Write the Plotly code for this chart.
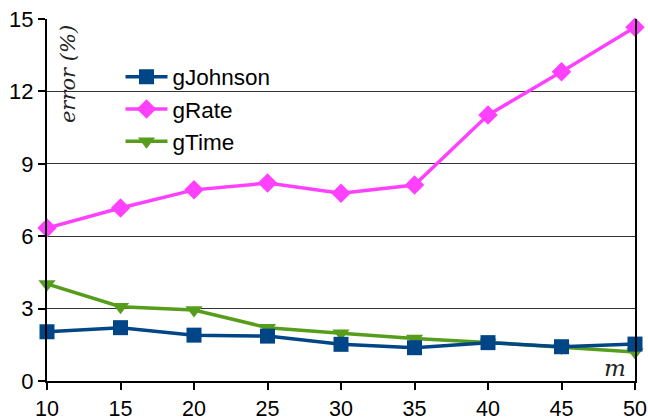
import plotly.graph_objects as go

m_values = [10, 15, 20, 25, 30, 35, 40, 45, 50]
g_johnson = [2.04, 2.21, 1.90, 1.86, 1.52, 1.38, 1.59, 1.42, 1.53]
g_rate = [6.34, 7.17, 7.92, 8.20, 7.78, 8.12, 11.02, 12.81, 14.66]
g_time = [4.02, 3.08, 2.94, 2.21, 1.98, 1.76, 1.60, 1.39, 1.20]
y_ticks = [0, 3, 6, 9, 12, 15]
x_ticks = [10, 15, 20, 25, 30, 35, 40, 45, 50]

series = [
    ("gRate", g_rate, "#ff40ff", "diamond", 2),
    ("gTime", g_time, "#579d1c", "triangle-down", 3),
    ("gJohnson", g_johnson, "#004586", "square", 1),
]

fig = go.Figure()
for name, vals, color, sym, rank in series:
    fig.add_trace(go.Scatter(x=m_values, y=vals, name=name, mode="lines+markers",
                             legendgroup=name, legendrank=rank,
                             line=dict(color=color, width=3.5),
                             marker=dict(symbol=sym, size=15, color=color),
                             cliponaxis=False))

fig.update_layout(
    width=648, height=417,
    margin=dict(l=47, r=13, t=19, b=36),
    plot_bgcolor="white", paper_bgcolor="white",
    font=dict(family="Liberation Sans, Arial, sans-serif", size=22, color="black"),
    showlegend=True,
    legend=dict(x=0.125, y=0.899, xanchor="left", yanchor="top",
                bgcolor="rgba(0,0,0,0)", font=dict(size=22.5),
                traceorder="grouped", itemwidth=42, tracegroupgap=0),
    xaxis=dict(range=[10, 50], tickvals=x_ticks, showgrid=False, showline=True,
               linecolor="black", linewidth=2, ticks="outside", ticklen=7,
               tickwidth=2, tickcolor="black", zeroline=False, automargin=False,
               tickfont=dict(size=21.5)),
    yaxis=dict(range=[0, 15], tickvals=y_ticks, showgrid=True, gridcolor="#333333",
               gridwidth=1, showline=True, linecolor="black", linewidth=2,
               ticks="outside", ticklen=7, tickwidth=2, tickcolor="black",
               zeroline=False, mirror=True, automargin=False),
)

fig.add_annotation(text="error (%)", xref="paper", yref="paper", x=0.011, y=0.99,
                   xanchor="left", yanchor="top", textangle=-90, showarrow=False,
                   font=dict(family="DejaVu Serif, Liberation Serif, serif", size=21,
                             style="italic", color="#222222"))
fig.add_annotation(text="m", xref="paper", yref="paper", x=0.988, y=-0.005,
                   xanchor="right", yanchor="bottom", showarrow=False,
                   font=dict(family="DejaVu Serif, Liberation Serif, serif", size=23,
                             style="italic", color="#222222"))

fig.write_html("out.html", config={"displayModeBar": False},
               post_script="document.body.style.margin='0';document.body.style.overflow='hidden';")
